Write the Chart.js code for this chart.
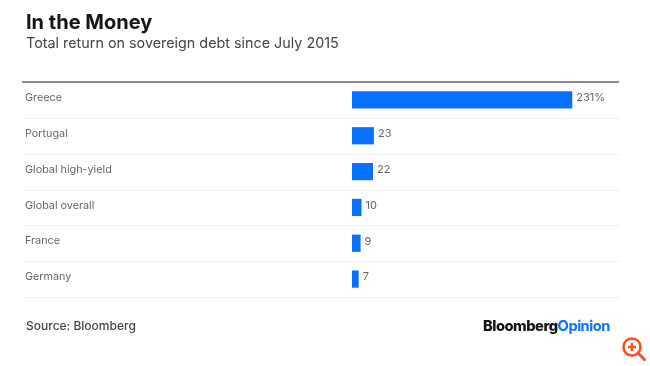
<!DOCTYPE html>
<html>
<head>
<meta charset="utf-8">
<title>In the Money</title>
<script src="https://cdn.jsdelivr.net/npm/chart.js@4"></script>
<style>
  html, body { margin: 0; padding: 0; background: #fff; }
  #wrap { position: relative; width: 650px; height: 366px; overflow: hidden; font-family: Inter, sans-serif; filter: blur(0.4px); }
  #barChart { position: absolute; left: 0; top: 0; }
  .txt { position: absolute; white-space: nowrap; }
  #titulo { left: 26px; top: 10px; font-size: 20px; font-weight: 700; color: #151515; }
  #subtitulo { left: 26px; top: 34px; font-size: 14.35px; color: #444; }
  #fuente { left: 26px; top: 318px; font-size: 12px; font-weight: 500; color: #444; }
  #logo { left: 483px; top: 317px; font-size: 14.7px; font-weight: 800; letter-spacing: -0.5px; color: #111; }
  #logo span { color: #0a70ff; font-weight: 700; }
  #lupa { position: absolute; left: 620px; top: 335px; }
</style>
</head>
<body>
<div id="wrap">
  <canvas id="barChart" width="650" height="366"></canvas>
  <div class="txt" id="titulo">In the Money</div>
  <div class="txt" id="subtitulo">Total return on sovereign debt since July 2015</div>
  <div class="txt" id="fuente">Source: Bloomberg</div>
  <div class="txt" id="logo">Bloomberg<span>Opinion</span></div>
  <svg id="lupa" width="28" height="28" viewBox="0 0 28 28">
    <circle cx="12" cy="12" r="8.5" fill="none" stroke="#f4511e" stroke-width="2.5"/>
    <path d="M18 18 L24.5 24.5" stroke="#f4511e" stroke-width="3" stroke-linecap="round"/>
    <path d="M12 8 V16 M8 12 H16" stroke="#f4511e" stroke-width="2.5"/>
  </svg>
</div>
<script>
const categorias = ["Greece", "Portugal", "Global high-yield", "Global overall", "France", "Germany"];
const valores = [231, 23, 22, 10, 9, 7];
const etiquetas = ["231%", "23", "22", "10", "9", "7"];

// separators between rows + heavy rule on top
const lineasFilas = {
  id: "lineasFilas",
  beforeDatasetsDraw(chart) {
    const { ctx, chartArea } = chart;
    const escala = chart.scales.y;
    const alto = (chartArea.bottom - chartArea.top) / categorias.length;
    ctx.save();
    categorias.forEach((c, i) => {
      const y = Math.round(escala.getPixelForTick(i) + alto / 2) + 0.5;
      ctx.strokeStyle = "#f0f0f0";
      ctx.lineWidth = 1;
      ctx.beginPath();
      ctx.moveTo(22, y);
      ctx.lineTo(chartArea.right, y);
      ctx.stroke();
    });
    ctx.strokeStyle = "#666";
    ctx.lineWidth = 1.5;
    ctx.beginPath();
    ctx.moveTo(22, chartArea.top);
    ctx.lineTo(chartArea.right, chartArea.top);
    ctx.stroke();
    ctx.restore();
  }
};

// value labels next to the bars
const etiquetasBarras = {
  id: "etiquetasBarras",
  afterDatasetsDraw(chart) {
    const { ctx } = chart;
    ctx.save();
    ctx.font = "11px Inter, sans-serif";
    ctx.fillStyle = "#666";
    ctx.textAlign = "left";
    ctx.textBaseline = "middle";
    chart.getDatasetMeta(0).data.forEach((bar, i) => {
      ctx.fillText(etiquetas[i], bar.x + 4, bar.y - 2);
    });
    ctx.restore();
  }
};

const ctxBar = document.getElementById("barChart").getContext("2d");
new Chart(ctxBar, {
  type: "bar",
  data: {
    labels: categorias,
    datasets: [{
      data: valores,
      backgroundColor: "#0a70ff",
      barPercentage: 0.48,
      categoryPercentage: 1
    }]
  },
  options: {
    indexAxis: "y",
    responsive: false,
    maintainAspectRatio: false,
    animation: false,
    layout: { padding: { top: 82, bottom: 69, left: 25, right: 31 } },
    plugins: {
      legend: { display: false },
      tooltip: { enabled: false }
    },
    scales: {
      x: { display: false, min: 0, max: 280 },
      y: {
        border: { display: false },
        grid: { display: false },
        afterFit: s => { s.width = 327; },
        ticks: {
          crossAlign: "far",
          labelOffset: -2,
          color: "#666",
          font: { family: "Inter, sans-serif", size: 10.8 }
        }
      }
    }
  },
  plugins: [lineasFilas, etiquetasBarras]
});
</script>
</body>
</html>
